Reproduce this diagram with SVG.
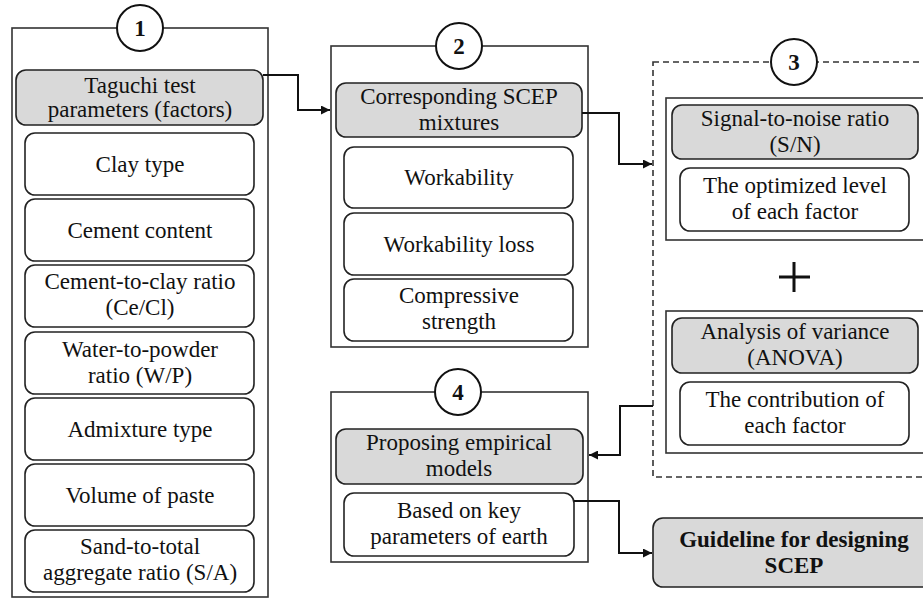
<svg xmlns="http://www.w3.org/2000/svg" width="923" height="600" viewBox="0 0 923 600">
<style>
  .frame{fill:#fff;stroke:#333;stroke-width:1.6}
  .dash{fill:none;stroke:#333;stroke-width:1.6;stroke-dasharray:6 4}
  .hdr{fill:#d9d9d9;stroke:#222;stroke-width:1.6}
  .item{fill:#fff;stroke:#222;stroke-width:1.6}
  .num{fill:#fff;stroke:#111;stroke-width:2}
  text{font-family:"Liberation Serif","Times New Roman",serif;font-size:23px;fill:#111;text-anchor:middle}
  .b{font-weight:bold}
  .conn{fill:none;stroke:#111;stroke-width:2}
</style>
<defs>
  <marker id="arr" viewBox="0 0 10 10" refX="10" refY="5" markerWidth="4.5" markerHeight="4.5" markerUnits="strokeWidth" orient="auto">
    <path d="M0,0 L10,5 L0,10 z" fill="#111"/>
  </marker>
</defs>

<g id="node1">
  <rect class="frame" x="12" y="28" width="256" height="569"/>
  <rect class="hdr" x="16" y="70" width="247" height="55" rx="10"/>
  <text x="140" y="93">Taguchi test</text>
  <text x="140" y="117">parameters (factors)</text>
  <rect class="item" x="25" y="133" width="229" height="62" rx="10"/>
  <text x="140" y="172">Clay type</text>
  <rect class="item" x="25" y="199" width="229" height="62" rx="10"/>
  <text x="140" y="238">Cement content</text>
  <rect class="item" x="25" y="265" width="229" height="62" rx="10"/>
  <text x="140" y="289">Cement-to-clay ratio</text>
  <text x="140" y="315">(Ce/Cl)</text>
  <rect class="item" x="25" y="332" width="229" height="62" rx="10"/>
  <text x="140" y="357">Water-to-powder</text>
  <text x="140" y="383">ratio (W/P)</text>
  <rect class="item" x="25" y="398" width="229" height="62" rx="10"/>
  <text x="140" y="437">Admixture type</text>
  <rect class="item" x="25" y="464" width="229" height="62" rx="10"/>
  <text x="140" y="503">Volume of paste</text>
  <rect class="item" x="25" y="530" width="229" height="62" rx="10"/>
  <text x="140" y="554">Sand-to-total</text>
  <text x="140" y="580">aggregate ratio (S/A)</text>
  <circle class="num" cx="140" cy="28" r="23"/>
  <text class="b" x="140" y="36">1</text>
</g>

<g id="node2">
  <rect class="frame" x="331" y="46" width="257" height="301"/>
  <rect class="hdr" x="336" y="83" width="246" height="54" rx="10"/>
  <text x="459" y="104">Corresponding SCEP</text>
  <text x="459" y="130">mixtures</text>
  <rect class="item" x="344" y="147" width="229" height="61" rx="10"/>
  <text x="459" y="185">Workability</text>
  <rect class="item" x="344" y="213" width="229" height="62" rx="10"/>
  <text x="459" y="252">Workability loss</text>
  <rect class="item" x="344" y="279" width="229" height="62" rx="10"/>
  <text x="459" y="303">Compressive</text>
  <text x="459" y="329">strength</text>
  <circle class="num" cx="459" cy="46" r="23"/>
  <text class="b" x="459" y="54">2</text>
</g>

<g id="node3">
  <rect class="dash" x="653" y="62" width="282" height="415"/>
  <g id="node3a">
    <rect class="frame" x="666" y="98" width="269" height="142"/>
    <rect class="hdr" x="672" y="105" width="246" height="54" rx="10"/>
    <text x="795" y="126">Signal-to-noise ratio</text>
    <text x="795" y="152">(S/N)</text>
    <rect class="item" x="680" y="168" width="229" height="63" rx="10"/>
    <text x="795" y="193">The optimized level</text>
    <text x="795" y="219">of each factor</text>
  </g>
  <path d="M794,262 V292 M779,277 H810" stroke="#111" stroke-width="3" fill="none"/>
  <g id="node3b">
    <rect class="frame" x="666" y="311" width="269" height="142"/>
    <rect class="hdr" x="672" y="318" width="246" height="55" rx="10"/>
    <text x="795" y="339">Analysis of variance</text>
    <text x="795" y="365">(ANOVA)</text>
    <rect class="item" x="680" y="382" width="229" height="63" rx="10"/>
    <text x="795" y="407">The contribution of</text>
    <text x="795" y="433">each factor</text>
  </g>
  <circle class="num" cx="794" cy="62" r="23"/>
  <text class="b" x="794" y="70">3</text>
</g>

<g id="node4">
  <rect class="frame" x="331" y="392" width="257" height="170"/>
  <rect class="hdr" x="336" y="429" width="247" height="55" rx="10"/>
  <text x="459" y="450">Proposing empirical</text>
  <text x="459" y="476">models</text>
  <rect class="item" x="344" y="493" width="230" height="63" rx="10"/>
  <text x="459" y="518">Based on key</text>
  <text x="459" y="544">parameters of earth</text>
  <circle class="num" cx="458" cy="392" r="23"/>
  <text class="b" x="458" y="400">4</text>
</g>

<g id="node5">
  <rect class="hdr" x="653" y="518" width="282" height="69" rx="10"/>
  <text class="b" x="794" y="547">Guideline for designing</text>
  <text class="b" x="794" y="573">SCEP</text>
</g>

<g id="connectors">
  <path class="conn" d="M263,75 H298 V110 H330" marker-end="url(#arr)"/>
  <path class="conn" d="M582,113 H619 V164 H652" marker-end="url(#arr)"/>
  <path class="conn" d="M653,406 H620 V455 H589" marker-end="url(#arr)"/>
  <path class="conn" d="M574,501 H619 V553 H652" marker-end="url(#arr)"/>
</g>
</svg>
